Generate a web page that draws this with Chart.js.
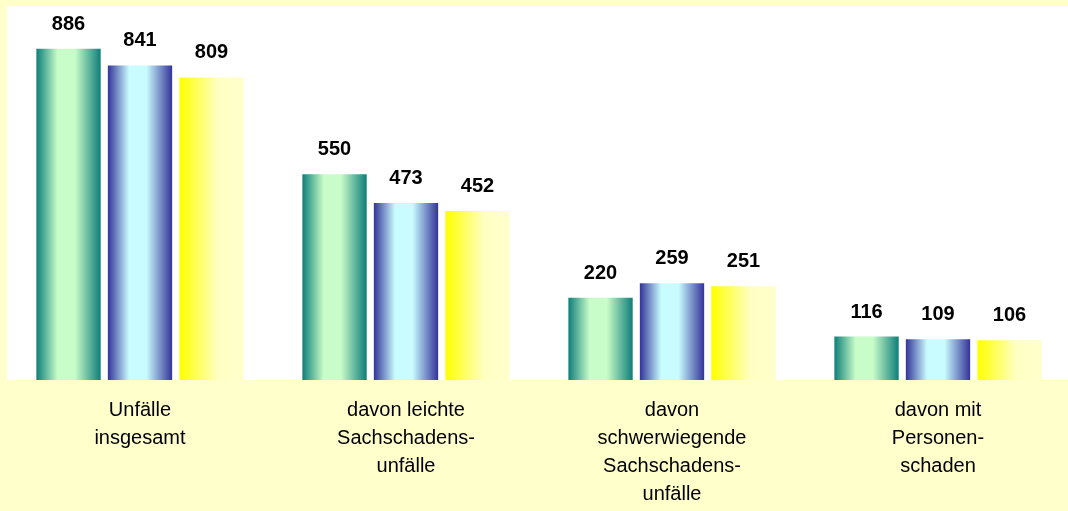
<!DOCTYPE html>
<html>
<head>
<meta charset="utf-8">
<script src="https://cdn.jsdelivr.net/npm/chart.js@4"></script>
<style>
    html, body { margin: 0; padding: 0; background: #FFFFCC; overflow: hidden; }
    #wrap { width: 1071px; height: 511px; }
</style>
</head>
<body>
<div id="wrap"><canvas id="chart"></canvas></div>
<script>
// Daten
const categories = [
    ['Unfälle', 'insgesamt'],
    ['davon leichte', 'Sachschadens-', 'unfälle'],
    ['davon', 'schwerwiegende', 'Sachschadens-', 'unfälle'],
    ['davon mit', 'Personen-', 'schaden']
];
const series1 = [886, 550, 220, 116];
const series2 = [841, 473, 259, 109];
const series3 = [809, 452, 251, 106];
const yMin = 0;
const yMax = 1000;

// Farbverläufe je Reihe (links -> rechts)
const gradientStops = [
    [[0, '#0E7E79'], [0.33, '#C8FCC8'], [0.6, '#C8FCC8'], [1, '#0E7E79']],
    [[0, '#333399'], [0.33, '#C8FCFF'], [0.6, '#C8FCFF'], [1, '#333399']],
    [[0, '#FFFF00'], [0.6, '#FFFFC2'], [1, '#FFFFCC']]
];

// Hintergrund: gelber Rand, weisse Zeichenfläche
const backgroundPlugin = {
    id: 'background',
    beforeDraw(chart) {
        const ctx = chart.ctx;
        const a = chart.chartArea;
        ctx.save();
        ctx.fillStyle = '#FFFFCC';
        ctx.fillRect(0, 0, chart.width, chart.height);
        ctx.fillStyle = '#FFFFFF';
        ctx.fillRect(a.left, a.top, a.right - a.left, a.bottom - a.top);
        ctx.restore();
    }
};

// Verlauf für jeden Balken
const gradientPlugin = {
    id: 'barGradient',
    beforeDatasetsDraw(chart) {
        const ctx = chart.ctx;
        chart.data.datasets.forEach((ds, i) => {
            const meta = chart.getDatasetMeta(i);
            meta.data.forEach(bar => {
                const left = bar.x - bar.width / 2;
                const right = bar.x + bar.width / 2;
                const g = ctx.createLinearGradient(left, 0, right, 0);
                gradientStops[i].forEach(s => g.addColorStop(s[0], s[1]));
                bar.options = Object.assign({}, bar.options, { backgroundColor: g });
            });
        });
    }
};

// Werte über den Balken
const valueLabelPlugin = {
    id: 'valueLabels',
    afterDatasetsDraw(chart) {
        const ctx = chart.ctx;
        ctx.save();
        ctx.font = 'bold 20px "Liberation Sans", Arial, sans-serif';
        ctx.fillStyle = '#000000';
        ctx.textAlign = 'center';
        ctx.textBaseline = 'alphabetic';
        chart.data.datasets.forEach((ds, i) => {
            const meta = chart.getDatasetMeta(i);
            meta.data.forEach((bar, j) => {
                ctx.fillText(String(ds.data[j]), bar.x, bar.y - 19);
            });
        });
        ctx.restore();
    }
};

new Chart(document.getElementById('chart'), {
    type: 'bar',
    data: {
        labels: categories,
        datasets: [
            { label: 'Reihe 1', data: series1, backgroundColor: '#8FD0B0' },
            { label: 'Reihe 2', data: series2, backgroundColor: '#8FB8E0' },
            { label: 'Reihe 3', data: series3, backgroundColor: '#FFFF80' }
        ]
    },
    options: {
        responsive: true,
        maintainAspectRatio: false,
        animation: false,
        events: [],
        categoryPercentage: 0.806,
        barPercentage: 0.9,
        layout: { padding: { top: 6, left: 7, right: 0, bottom: 0 } },
        plugins: {
            legend: { display: false },
            tooltip: { enabled: false }
        },
        scales: {
            x: {
                grid: { display: false, drawTicks: false },
                border: { display: false },
                ticks: {
                    color: '#000000',
                    font: { family: '"Liberation Sans", Arial, sans-serif', size: 20, lineHeight: '28px' },
                    padding: 16,
                    maxRotation: 0,
                    autoSkip: false
                },
                afterFit(scale) {
                    scale.height = 131;
                }
            },
            y: {
                display: false,
                min: yMin,
                max: yMax
            }
        }
    },
    plugins: [backgroundPlugin, gradientPlugin, valueLabelPlugin]
});
</script>
</body>
</html>
